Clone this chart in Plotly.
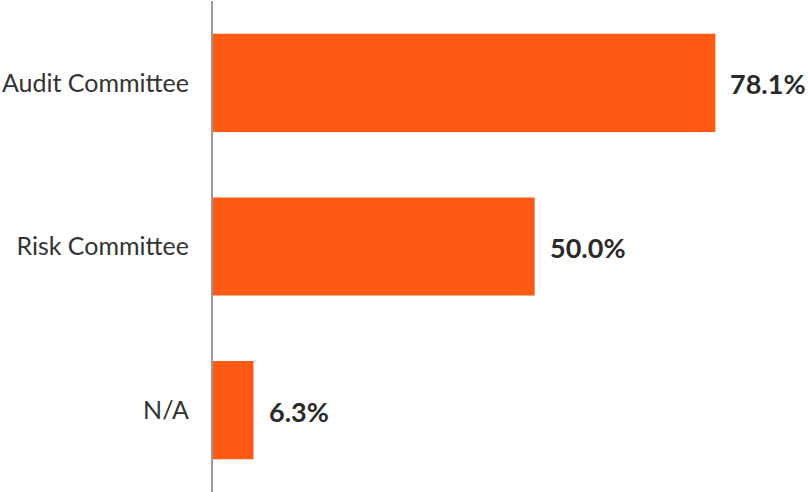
import plotly.graph_objects as go

categories = ["Audit Committee", "Risk Committee", "N/A"]
values = [78.1, 50.0, 6.3]
value_labels = ["78.1%", "50.0%", "6.3%"]

BAR_COLOR = "#FF5A13"
TEXT_COLOR = "#2a2a2a"

fig = go.Figure()
fig.add_trace(go.Bar(
    x=values,
    y=categories,
    orientation="h",
    marker=dict(color=BAR_COLOR, line=dict(width=0)),
    width=0.6,
    hoverinfo="skip",
))

for cat, val, lab in zip(categories, values, value_labels):
    fig.add_annotation(
        x=val, y=cat, text=f"<b>{lab}</b>", showarrow=False,
        xanchor="left", xshift=13, yshift=-1,
        font=dict(family="Lato", size=27, color=TEXT_COLOR),
    )

fig.update_layout(
    width=808, height=492,
    margin=dict(l=213, r=0, t=1, b=0),
    paper_bgcolor="white", plot_bgcolor="white",
    showlegend=False,
    xaxis=dict(range=[0, 92.5], visible=False, fixedrange=True),
    yaxis=dict(
        categoryorder="array", categoryarray=categories,
        autorange=False, range=[2.5, -0.5],
        showgrid=False, zeroline=False,
        showline=True, linecolor="#999999", linewidth=2,
        ticks="", ticklabelstandoff=17,
        tickfont=dict(family="Lato", size=25, color="#333333"),
    ),
)

fig.write_html("out.html")
